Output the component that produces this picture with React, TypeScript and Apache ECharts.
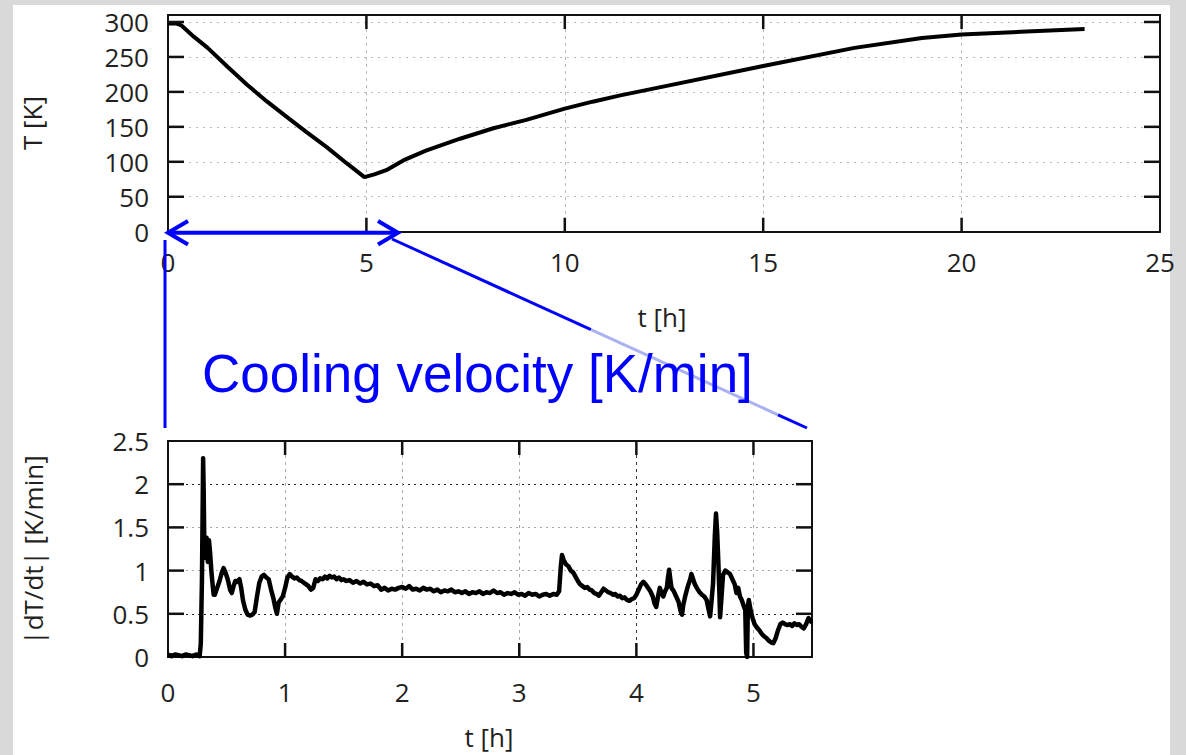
import React, { useEffect, useRef } from "react";
import * as echarts from "echarts";

// Temperature profile (top chart)
const tempHours = [0, 0.2, 0.34, 0.65, 1.0, 1.5, 2.0, 2.5, 3.0, 3.5, 4.0, 4.5, 4.95, 5.2, 5.5, 5.93, 6.5, 7.36, 8.2, 9.03, 10.0, 10.7, 11.4, 12.6, 15.0, 17.3, 19.0, 20.0, 21.5, 23.1];
const tempKelvin = [298, 298, 295, 279, 263, 236, 210, 186, 164, 142, 121, 98, 78, 82, 88, 102, 116, 133, 148, 160, 176, 186, 195, 209, 237, 263, 277, 282, 286, 290];

// Cooling velocity (bottom chart)
const rateHours = [
  0.00, 0.03, 0.06, 0.09, 0.12, 0.15, 0.18, 0.21, 0.24, 0.27, 0.28, 0.29, 0.30, 0.305, 0.31, 0.32, 0.33, 0.34, 0.35, 0.36,
  0.37, 0.38, 0.39, 0.40, 0.42, 0.44, 0.46, 0.475, 0.49, 0.51, 0.53, 0.545, 0.56, 0.575, 0.59, 0.61, 0.625, 0.64, 0.66, 0.68,
  0.70, 0.72, 0.74, 0.76, 0.78, 0.80, 0.82, 0.84, 0.86, 0.88, 0.90, 0.915, 0.93, 0.945, 0.96, 0.98, 1.00, 1.02, 1.04, 1.06,
  1.08, 1.10, 1.12, 1.14, 1.16, 1.18, 1.20, 1.22, 1.24, 1.26, 1.28, 1.30, 1.32, 1.34, 1.36, 1.38, 1.40, 1.42, 1.44, 1.46,
  1.48, 1.50, 1.52, 1.55, 1.58, 1.61, 1.64, 1.67, 1.70, 1.73, 1.76, 1.79, 1.82, 1.85, 1.88, 1.91, 1.94, 1.97, 2.00, 2.03,
  2.06, 2.09, 2.12, 2.15, 2.18, 2.21, 2.24, 2.27, 2.30, 2.33, 2.36, 2.39, 2.42, 2.45, 2.48, 2.51, 2.54, 2.57, 2.60, 2.63,
  2.66, 2.69, 2.72, 2.75, 2.78, 2.81, 2.84, 2.87, 2.90, 2.93, 2.96, 2.99, 3.02, 3.05, 3.08, 3.11, 3.14, 3.17, 3.20, 3.23,
  3.26, 3.29, 3.32, 3.34, 3.355, 3.365, 3.38, 3.40, 3.42, 3.44, 3.46, 3.48, 3.50, 3.52, 3.54, 3.56, 3.58, 3.60, 3.62, 3.64,
  3.66, 3.68, 3.70, 3.72, 3.74, 3.76, 3.78, 3.80, 3.82, 3.84, 3.86, 3.88, 3.90, 3.92, 3.94, 3.96, 3.98, 4.00, 4.02, 4.04,
  4.06, 4.08, 4.10, 4.12, 4.14, 4.155, 4.17, 4.185, 4.20, 4.215, 4.23, 4.245, 4.26, 4.27, 4.28, 4.29, 4.30, 4.32, 4.34, 4.36,
  4.38, 4.39, 4.40, 4.42, 4.44, 4.46, 4.47, 4.48, 4.50, 4.52, 4.54, 4.56, 4.58, 4.60, 4.615, 4.63, 4.64, 4.655, 4.67, 4.68,
  4.69, 4.70, 4.71, 4.715, 4.725, 4.74, 4.76, 4.78, 4.80, 4.82, 4.84, 4.855, 4.87, 4.885, 4.90, 4.915, 4.93, 4.938, 4.946, 4.952,
  4.96, 4.975, 4.99, 5.01, 5.03, 5.05, 5.07, 5.09, 5.11, 5.13, 5.15, 5.17, 5.19, 5.21, 5.23, 5.25, 5.27, 5.29, 5.31, 5.33,
  5.35, 5.37, 5.39, 5.41, 5.43, 5.45, 5.47, 5.49, 5.50,
];
const rateValues = [
  0.03, 0.01, 0.03, 0.02, 0.01, 0.03, 0.02, 0.01, 0.03, 0.01, 0.15, 0.9, 2.3, 1.9, 1.3, 1.15, 1.38, 1.1, 1.35, 1.2,
  1.0, 0.85, 0.72, 0.72, 0.8, 0.88, 0.98, 1.03, 0.98, 0.9, 0.78, 0.74, 0.82, 0.88, 0.87, 0.9, 0.8, 0.66, 0.55, 0.49,
  0.48, 0.49, 0.52, 0.7, 0.86, 0.93, 0.95, 0.92, 0.9, 0.78, 0.68, 0.58, 0.5, 0.63, 0.66, 0.7, 0.8, 0.92, 0.96, 0.93,
  0.91, 0.92, 0.89, 0.88, 0.86, 0.84, 0.82, 0.78, 0.8, 0.9, 0.88, 0.91, 0.9, 0.93, 0.91, 0.94, 0.92, 0.93, 0.9, 0.92,
  0.89, 0.9, 0.88, 0.89, 0.86, 0.88, 0.85, 0.87, 0.84, 0.85, 0.82, 0.83, 0.78, 0.8, 0.77, 0.79, 0.78, 0.8, 0.81, 0.79,
  0.82, 0.78, 0.79, 0.77, 0.8, 0.78, 0.79, 0.76, 0.78, 0.75, 0.77, 0.76, 0.78, 0.75, 0.76, 0.74, 0.76, 0.73, 0.75, 0.74,
  0.76, 0.73, 0.75, 0.74, 0.77, 0.74, 0.75, 0.72, 0.74, 0.73, 0.75, 0.72, 0.73, 0.71, 0.74, 0.72, 0.73, 0.7, 0.72, 0.73,
  0.71, 0.73, 0.72, 0.76, 1.05, 1.18, 1.12, 1.07, 1.05, 1.0, 0.98, 0.93, 0.88, 0.84, 0.82, 0.8, 0.81, 0.78, 0.77, 0.74,
  0.73, 0.71, 0.75, 0.79, 0.77, 0.75, 0.74, 0.72, 0.73, 0.7, 0.71, 0.68, 0.69, 0.66, 0.65, 0.67, 0.68, 0.72, 0.78, 0.84,
  0.87, 0.84, 0.8, 0.76, 0.7, 0.62, 0.58, 0.7, 0.8, 0.74, 0.7, 0.76, 0.8, 0.92, 1.01, 0.9, 0.8, 0.76, 0.7, 0.64,
  0.52, 0.49, 0.6, 0.72, 0.82, 0.9, 0.96, 0.92, 0.84, 0.79, 0.75, 0.72, 0.7, 0.66, 0.56, 0.47, 0.62, 0.85, 1.4, 1.66,
  1.45, 1.1, 0.7, 0.46, 0.65, 0.95, 1.0, 0.98, 0.96, 0.9, 0.84, 0.74, 0.8, 0.7, 0.66, 0.6, 0.54, 0.05, 0.0, 0.58,
  0.66, 0.55, 0.46, 0.38, 0.34, 0.31, 0.27, 0.24, 0.22, 0.19, 0.17, 0.16, 0.22, 0.31, 0.38, 0.4, 0.38, 0.37, 0.38, 0.36,
  0.39, 0.37, 0.38, 0.35, 0.33, 0.38, 0.45, 0.41, 0.42,
];

// Tick positions (drawn as inward gnuplot-style ticks on all four sides)
const tempTimeTicks = [0, 5, 10, 15, 20, 25];
const tempKelvinTicks = [0, 50, 100, 150, 200, 250, 300];
const rateTimeTicks = [0, 1, 2, 3, 4, 5];
const rateValueTicks = [0, 0.5, 1, 1.5, 2, 2.5];

const FONT = "'Open Sans', 'Noto Sans', sans-serif";
const LABEL_COLOR = "#231f20";
const TICK_LEN = 14;

function frameAxis(extra: any) {
  return {
    type: "value",
    axisLine: { show: true, onZero: false, lineStyle: { color: "#111", width: 2 } },
    axisTick: { show: false },
    axisLabel: { show: false },
    splitLine: { show: false },
    ...extra,
  };
}

const mainLabel = (margin: number) => ({
  show: true,
  margin,
  fontSize: 26,
  fontFamily: FONT,
  color: LABEL_COLOR,
  showMaxLabel: false,
});

function tickSeries(xIdx: number, yIdx: number, values: number[], dir: "x" | "y") {
  return {
    type: "custom",
    coordinateSystem: "cartesian2d",
    xAxisIndex: xIdx,
    yAxisIndex: yIdx,
    clip: false,
    silent: true,
    z: 6,
    data: values.map((v) => (dir === "x" ? [v, 0] : [0, v])),
    renderItem: (params: any, api: any) => {
      const cs = params.coordSys;
      const style = { stroke: "#111111", lineWidth: 2.5, fill: "none" };
      if (dir === "x") {
        const px = api.coord([api.value(0), api.value(1)])[0];
        return {
          type: "group",
          children: [
            { type: "line", shape: { x1: px, y1: cs.y + cs.height, x2: px, y2: cs.y + cs.height - TICK_LEN }, style },
            { type: "line", shape: { x1: px, y1: cs.y, x2: px, y2: cs.y + TICK_LEN }, style },
          ],
        };
      }
      const py = api.coord([api.value(0), api.value(1)])[1];
      return {
        type: "group",
        children: [
          { type: "line", shape: { x1: cs.x, y1: py, x2: cs.x + TICK_LEN + 2, y2: py }, style },
          { type: "line", shape: { x1: cs.x + cs.width, y1: py, x2: cs.x + cs.width - TICK_LEN - 2, y2: py }, style },
        ],
      };
    },
  };
}

export default function App() {
  const ref = useRef<HTMLDivElement>(null);

  useEffect(() => {
    document.body.style.margin = "0";
    const chart = echarts.init(ref.current!, null, { renderer: "svg" });

    const topData = tempHours.map((t, i) => [t, tempKelvin[i]]);
    const rateData = rateHours.map((t, i) => [t, rateValues[i]]);

    const blue = "#0000ff";
    const slope = (428 - 239) / (807 - 392);
    const yAt = (x: number) => 239 + (x - 392) * slope;

    const option: any = {
      animation: false,
      backgroundColor: "transparent",
      grid: [
        { left: 168, top: 15, width: 992, height: 216.7 },
        { left: 168, top: 441, width: 644, height: 216 },
      ],
      xAxis: [
        frameAxis({
          gridIndex: 0, position: "bottom", min: 0, max: 25, interval: 5,
          axisLabel: { ...mainLabel(17), showMaxLabel: true },
          splitLine: { show: true, lineStyle: { color: "#b8b8b8", width: 1, type: [3, 4] } },
        }),
        frameAxis({ gridIndex: 0, position: "top", min: 0, max: 25, interval: 5 }),
        frameAxis({
          gridIndex: 1, position: "bottom", min: 0, max: 5.5, interval: 1,
          axisLabel: mainLabel(22),
          splitLine: {
            show: true,
            lineStyle: { color: ["#aaaaaa", "#aaaaaa", "#aaaaaa", "#aaaaaa", "#333333", "#aaaaaa", "#aaaaaa"], width: 1, type: [3, 4] },
          },
        }),
        frameAxis({ gridIndex: 1, position: "top", min: 0, max: 5.5, interval: 1 }),
      ],
      yAxis: [
        frameAxis({
          gridIndex: 0, position: "left", min: 0, max: 310, interval: 50,
          axisLabel: mainLabel(19),
          splitLine: { show: true, lineStyle: { color: "#b8b8b8", width: 1, type: [2, 5] } },
        }),
        frameAxis({ gridIndex: 0, position: "right", min: 0, max: 310, interval: 50 }),
        frameAxis({
          gridIndex: 1, position: "left", min: 0, max: 2.5, interval: 0.5,
          axisLabel: { ...mainLabel(19), showMaxLabel: true },
          splitLine: {
            show: true,
            lineStyle: { color: ["#aaaaaa", "#222222", "#aaaaaa", "#aaaaaa", "#222222", "#aaaaaa"], width: 1, type: [2, 4] },
          },
        }),
        frameAxis({ gridIndex: 1, position: "right", min: 0, max: 2.5, interval: 0.5 }),
      ],
      series: [
        {
          type: "line", xAxisIndex: 0, yAxisIndex: 0, data: topData, showSymbol: false,
          lineStyle: { color: "#000", width: 4 }, z: 5,
        },
        {
          type: "line", xAxisIndex: 2, yAxisIndex: 2, data: rateData, showSymbol: false,
          lineStyle: { color: "#000", width: 4.5, join: "round" }, z: 5,
        },
        tickSeries(0, 0, tempTimeTicks.slice(1, -1), "x"),
        tickSeries(0, 0, tempKelvinTicks.slice(1), "y"),
        tickSeries(2, 2, rateTimeTicks.slice(1), "x"),
        tickSeries(2, 2, rateValueTicks.slice(1, -1), "y"),
      ],
      graphic: [
        { type: "text", x: 32, y: 123, rotation: Math.PI / 2, z: 50,
          style: { text: "T [K]", fontSize: 26, fontFamily: FONT, fill: LABEL_COLOR, align: "center", verticalAlign: "middle" } },
        { type: "text", x: 662, y: 317, z: 50,
          style: { text: "t [h]", fontSize: 26, fontFamily: FONT, fill: LABEL_COLOR, align: "center", verticalAlign: "middle" } },
        { type: "text", x: 33, y: 550, rotation: Math.PI / 2, z: 50,
          style: { text: "|dT/dt| [K/min]", fontSize: 26, fontFamily: FONT, fill: LABEL_COLOR, align: "center", verticalAlign: "middle" } },
        { type: "text", x: 489, y: 737, z: 50,
          style: { text: "t [h]", fontSize: 26, fontFamily: FONT, fill: LABEL_COLOR, align: "center", verticalAlign: "middle" } },

        // blue annotation: double arrow
        { type: "line", z: 100, shape: { x1: 168, y1: 232.7, x2: 398, y2: 232.7 }, style: { stroke: blue, lineWidth: 4 } },
        { type: "polyline", z: 100, shape: { points: [[188, 221], [168, 232.7], [188, 244.5]] }, style: { stroke: blue, lineWidth: 4, fill: null } },
        { type: "polyline", z: 100, shape: { points: [[378, 221], [398, 232.7], [378, 244.5]] }, style: { stroke: blue, lineWidth: 4, fill: null } },
        // vertical guide
        { type: "line", z: 100, shape: { x1: 165, y1: 240, x2: 165, y2: 428 }, style: { stroke: blue, lineWidth: 3 } },
        // diagonal guide
        { type: "line", z: 100, shape: { x1: 392, y1: yAt(392), x2: 591, y2: yAt(591) }, style: { stroke: blue, lineWidth: 3 } },
        { type: "line", z: 100, shape: { x1: 591, y1: yAt(591), x2: 778, y2: yAt(778) }, style: { stroke: "#aab2f2", lineWidth: 3 } },
        { type: "line", z: 100, shape: { x1: 778, y1: yAt(778), x2: 807, y2: yAt(807) }, style: { stroke: blue, lineWidth: 3 } },
        { type: "text", x: 202, y: 373, z: 110,
          style: { text: "Cooling velocity [K/min]", fontSize: 53, fontFamily: "'Liberation Sans', Arial, sans-serif", fill: blue, align: "left", verticalAlign: "middle" } },
      ],
    };

    chart.setOption(option);
    return () => chart.dispose();
  }, []);

  return (
    <div style={{ position: "relative", width: 1186, height: 755, overflow: "hidden", background: "#d9d9d9" }}>
      <div style={{ position: "absolute", left: 13, top: 5, width: 1157, height: 750, background: "#ffffff" }} />
      <div ref={ref} style={{ position: "absolute", left: 0, top: 0, width: 1186, height: 755 }} />
    </div>
  );
}
